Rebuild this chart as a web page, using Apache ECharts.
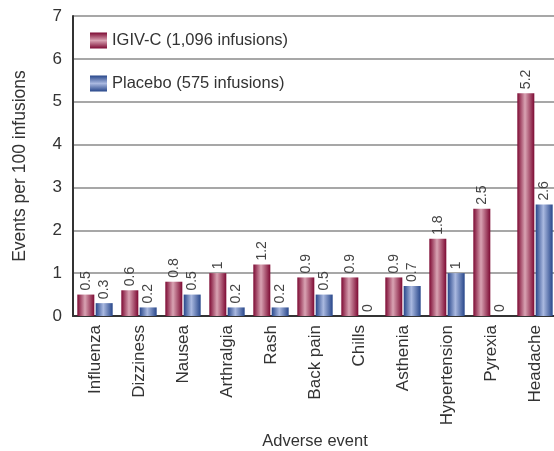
<!DOCTYPE html>
<html><head><meta charset="utf-8">
<script src="https://cdn.jsdelivr.net/npm/echarts@6/dist/echarts.min.js"></script>
<style>html,body{margin:0;padding:0;background:#fff}#c{width:554px;height:451px}</style>
</head><body><div id="c"></div>
<script>
var categories = ['Influenza','Dizziness','Nausea','Arthralgia','Rash','Back pain','Chills','Asthenia','Hypertension','Pyrexia','Headache'];
var igivValues = [0.5,0.6,0.8,1,1.2,0.9,0.9,0.9,1.8,2.5,5.2];
var placeboValues = [0.3,0.2,0.5,0.2,0.2,0.5,0,0.7,1,0,2.6];
var yTicks = [0,1,2,3,4,5,6,7];
var seriesNames = ['IGIV-C (1,096 infusions)','Placebo (575 infusions)'];

function grad(edge, mid){
  return new echarts.graphic.LinearGradient(0,0,1,0,[
    {offset:0,color:edge},{offset:0.45,color:mid},{offset:1,color:edge}]);
}
function lgrad(edge, mid){
  return new echarts.graphic.LinearGradient(0,0,0,1,[
    {offset:0,color:edge},{offset:0.5,color:mid},{offset:1,color:edge}]);
}
var FONT = '"Liberation Sans", Arial, sans-serif';
var chart = echarts.init(document.getElementById('c'), null, {renderer:'canvas'});
var labelCfg = {show:true, position:'top', rotate:90, align:'left', verticalAlign:'middle', distance:4,
  color:'#444', fontSize:14, fontFamily:FONT};
chart.setOption({
  animation:false,
  textStyle:{fontFamily:FONT},
  grid:{left:73, top:16, width:484, height:300, containLabel:false, outerBoundsMode:'none'},
  legend:{
    orient:'vertical', left:85, top:27, itemGap:26, itemWidth:17, itemHeight:16,
    icon:'rect',
    textStyle:{fontSize:16.5, color:'#333', fontFamily:FONT},
    data:[
      {name:seriesNames[0], itemStyle:{color:lgrad('#7d0a33','#d9a3b3')}},
      {name:seriesNames[1], itemStyle:{color:lgrad('#27468a','#aab9e0')}}
    ]
  },
  xAxis:{
    type:'category', data:categories,
    axisLine:{lineStyle:{color:'#333', width:2}},
    axisTick:{show:false},
    axisLabel:{rotate:90, fontSize:17, color:'#333', margin:9, interval:0, fontFamily:FONT},
    name:'Adverse event', nameLocation:'middle', nameGap:116,
    nameTextStyle:{fontSize:16.5, color:'#333', fontFamily:FONT}
  },
  yAxis:{
    type:'value', min:0, max:7, interval:1,
    axisLine:{show:true, lineStyle:{color:'#333', width:2}},
    axisTick:{show:false},
    splitLine:{lineStyle:{color:'#8a8a8a', width:1.5}},
    axisLabel:{fontSize:17, color:'#333', margin:11, fontFamily:FONT,
      formatter:function(v){return yTicks.indexOf(v)>=0 ? String(v) : '';}},
    name:'Events per 100 infusions', nameLocation:'middle', nameGap:44,
    nameTextStyle:{fontSize:17.5, color:'#333', fontFamily:FONT}
  },
  series:[
    {name:seriesNames[0], type:'bar', data:igivValues, barWidth:17, barGap:'8%',
     itemStyle:{color:grad('#7d0a33','#d9a3b3')}, label:labelCfg},
    {name:seriesNames[1], type:'bar', data:placeboValues, barWidth:17, barGap:'8%',
     itemStyle:{color:grad('#27468a','#aab9e0')}, label:labelCfg}
  ]
});
</script></body></html>
